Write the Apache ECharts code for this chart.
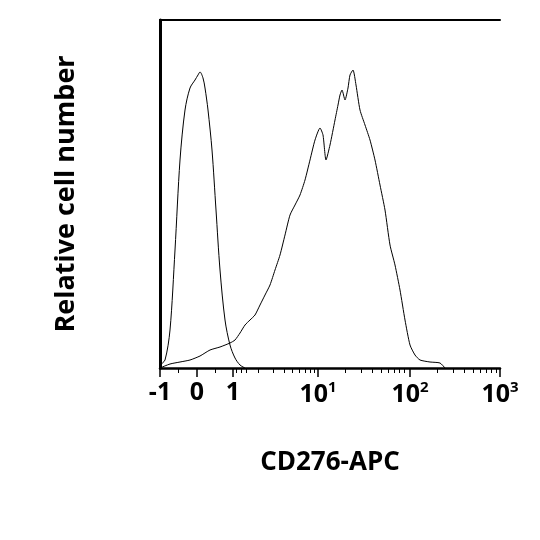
<!DOCTYPE html>
<html><head><meta charset="utf-8">
<script src="https://cdn.jsdelivr.net/npm/echarts@6/dist/echarts.min.js"></script>
<style>html,body{margin:0;background:#fff}#c{width:540px;height:540px}</style>
</head><body><div id="c"></div>
<script>
// x: display position along axis (0 = -1, 37 = 0, 73 = 1, 158 = 10, 250 = 100, 340 = 1000); y: relative count height
const tickPos = [0, 37, 73, 158, 250, 340];
const tickLabels = ['-1', '0', '1', '10{s|1}', '10{s|2}', '10{s|3}'];
const isotypeX = [0,5,10,15,20,25,30,35,38,40,43,45,48,52,56,60,65,70,75,80,85];
const isotypeY = [3,8,38,118,208,258,280,288,293,296,290,280,258,218,158,98,48,23,10,3,0];
const stainedX = [0,10,20,30,40,50,60,70,75,80,85,90,95,100,105,110,115,120,125,130,135,140,145,150,155,160,163,166,170,175,178,180,182,185,188,190,193,196,200,205,210,215,220,225,230,235,240,245,250,255,260,270,280,285];
const stainedY = [0,4,6,8,12,18,21,25,28,35,43,48,53,63,73,83,98,113,133,153,163,173,188,208,228,240,233,208,223,248,263,273,278,268,280,293,298,283,258,243,228,208,183,158,123,103,78,48,23,13,8,6,5,0];

const minorTicks = [];
[0, 158, 250].forEach(base => {
  for (let k = 2; k <= 9; k++) minorTicks.push(base + 90 * Math.log10(k));
});
for (let k = 2; k <= 9; k++) minorTicks.push(73 + 85 * Math.log10(k));
const minor = minorTicks.filter(v => v > 73 && v < 340).concat([18, 55]);

const chart = echarts.init(document.getElementById('c'));
const font = '"Open Sans", "Noto Sans", sans-serif';
chart.setOption({
  animation: false,
  grid: {left: 160, right: 40, top: 20, bottom: 172},
  xAxis: [{
    type: 'value', min: 0, max: 340,
    axisLine: {lineStyle: {color: '#000', width: 2.5}},
    splitLine: {show: false},
    axisTick: {customValues: tickPos, length: 9, lineStyle: {color: '#000', width: 1.5}},
    axisLabel: {customValues: tickPos, margin: 12, color: '#000', fontSize: 25, fontWeight: 'bold', fontFamily: font,
      formatter: v => tickLabels[tickPos.indexOf(v)],
      rich: {s: {fontSize: 15, fontWeight: 'bold', verticalAlign: 'top', padding: [0,0,14,0], fontFamily: font}}},
    name: 'CD276-APC', nameLocation: 'middle', nameGap: 82,
    nameTextStyle: {color: '#000', fontSize: 26, fontWeight: 'bold', fontFamily: font}
  }, {
    type: 'value', min: 0, max: 340, position: 'bottom',
    axisLine: {show: false}, splitLine: {show: false},
    axisTick: {customValues: minor, length: 5, lineStyle: {color: '#000', width: 1}},
    axisLabel: {show: false}
  }, {
    type: 'value', min: 0, max: 340, position: 'top',
    axisLine: {lineStyle: {color: '#000', width: 2}}, axisTick: {show: false}, axisLabel: {show: false}, splitLine: {show: false}
  }],
  yAxis: [{
    type: 'value', min: 0, max: 348,
    axisLine: {show: true, lineStyle: {color: '#000', width: 3}},
    axisTick: {show: false}, axisLabel: {show: false}, splitLine: {show: false},
    name: 'Relative cell number', nameLocation: 'middle', nameGap: 80,
    nameTextStyle: {color: '#000', fontSize: 27, fontWeight: 'bold', fontFamily: font}
  }, {
    type: 'value', min: 0, max: 348, position: 'right',
    axisLine: {show: true, lineStyle: {color: '#000', width: 2}},
    axisTick: {show: false}, axisLabel: {show: false}, splitLine: {show: false}
  }],
  series: [
    {type: 'line', data: isotypeX.map((x, i) => [x, isotypeY[i]]), showSymbol: false, smooth: 0.3,
     lineStyle: {color: '#000', width: 1}},
    {type: 'line', data: stainedX.map((x, i) => [x, stainedY[i]]), showSymbol: false, smooth: 0.2,
     lineStyle: {color: '#000', width: 1}}
  ]
});
</script></body></html>
